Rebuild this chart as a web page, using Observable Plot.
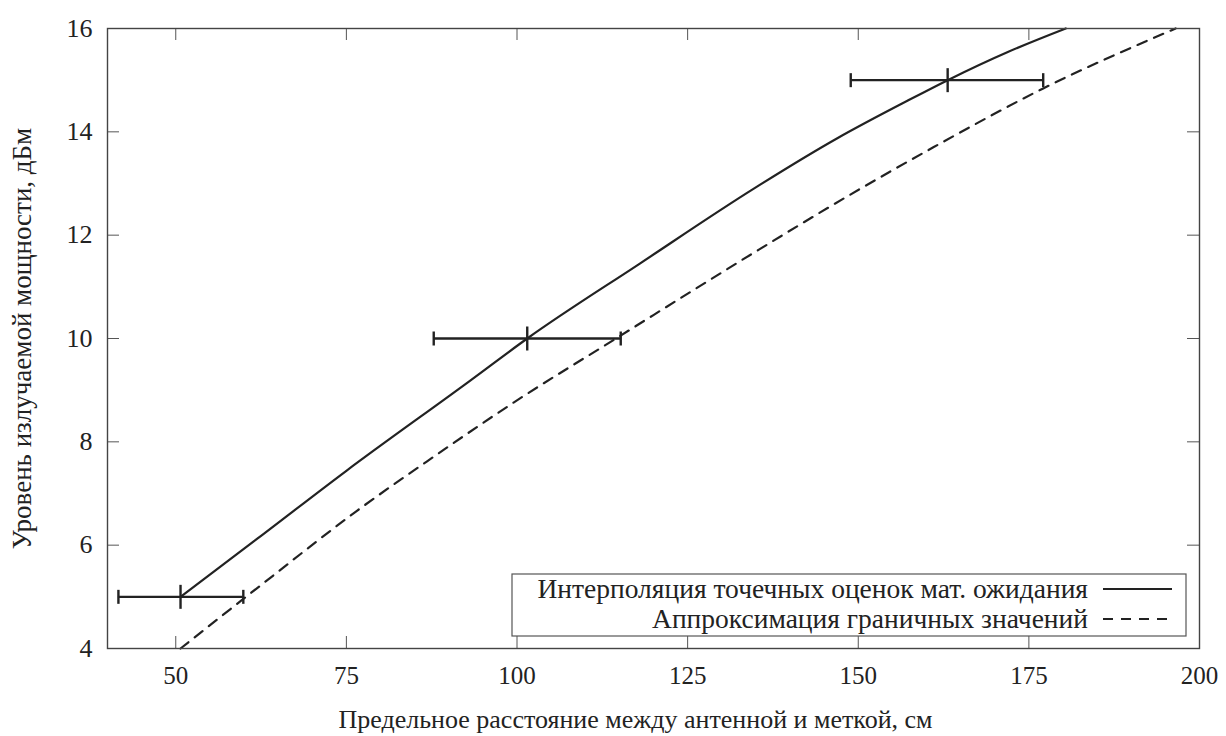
<!DOCTYPE html>
<html><head><meta charset="utf-8">
<script src="https://cdn.jsdelivr.net/npm/d3@7"></script>
<script src="https://cdn.jsdelivr.net/npm/@observablehq/plot@0.6"></script>
<style>
body{margin:0;background:#fff}
svg text{font-family:"Liberation Serif","Times New Roman",serif !important;}
</style>
</head><body><div id="chart"></div>
<script>
// Tick values
const xTicks = [50, 75, 100, 125, 150, 175, 200];
const yTicks = [4, 6, 8, 10, 12, 14, 16];

// Point estimates with intervals
const meanX = [50.7, 101.5, 163.1];
const meanY = [5, 10, 15];
const lowX  = [41.6, 87.8, 148.9];
const highX = [59.9, 115.2, 177.1];

// Interpolation of point estimates (solid)
const interpX = [50.7, 62, 75, 93.2, 101.5, 118, 134.7, 147, 157.2, 163.1, 172, 180.4];
const interpY = [5, 6.13, 7.44, 9.19, 10, 11.45, 12.9, 13.88, 14.6, 15, 15.55, 16];

// Approximation of boundary values (dashed)
const approxX = [50.7, 63, 76.6, 88, 99.5, 114.5, 134.7, 148, 161, 177.1, 196.5];
const approxY = [4, 5.28, 6.67, 7.73, 8.76, 10, 11.66, 12.72, 13.7, 14.84, 16];

const xTitle = "Предельное расстояние между антенной и меткой, см";
const yTitle = "Уровень излучаемой мощности, дБм";
const legendLabels = ["Интерполяция точечных оценок мат. ожидания", "Аппроксимация граничных значений"];

const interp = interpX.map((x, i) => ({x, y: interpY[i]}));
const approx = approxX.map((x, i) => ({x, y: approxY[i]}));
const bars = meanX.map((x, i) => ({x, y: meanY[i], lo: lowX[i], hi: highX[i]}));

const W = 1226, H = 736, mL = 107, mR = 27, mT = 28, mB = 88;
const frameH = H - mT - mB, frameW = W - mL - mR;
const TL = 12;
const vbar = {draw(ctx, size) { const h = Math.sqrt(size / Math.PI); ctx.moveTo(0, -h); ctx.lineTo(0, h); }};
const ink = "#222";
const FONT = '"Liberation Serif", "Times New Roman", serif';

const plot = Plot.plot({
  width: W, height: H,
  marginLeft: mL, marginRight: mR, marginTop: mT, marginBottom: mB,
  style: {fontFamily: FONT, background: "#fff", color: ink},
  x: {domain: [40, 200], axis: null},
  y: {domain: [4, 16], axis: null},
  marks: [
    Plot.tickX(xTicks, {x: d => d, insetTop: frameH - TL, stroke: "#555", strokeWidth: 1}),
    Plot.tickX(xTicks, {x: d => d, insetBottom: frameH - TL, stroke: "#555", strokeWidth: 1}),
    Plot.tickY(yTicks, {y: d => d, insetRight: frameW - TL, stroke: "#555", strokeWidth: 1}),
    Plot.tickY(yTicks, {y: d => d, insetLeft: frameW - TL, stroke: "#555", strokeWidth: 1}),
    Plot.axisX(xTicks, {tickSize: 0, tickPadding: 18, fontSize: 25, label: null, tickFormat: d => String(d), fill: ink}),
    Plot.axisY(yTicks, {tickSize: 0, tickPadding: 15, fontSize: 26, label: null, tickFormat: d => String(d), fill: ink}),
    Plot.text([xTitle], {frameAnchor: "bottom", textAnchor: "middle", lineAnchor: "middle", dy: 71, dx: -18, fontSize: 26, fill: ink}),
    Plot.text([yTitle], {frameAnchor: "left", textAnchor: "middle", lineAnchor: "middle", dx: -85, rotate: -90, fontSize: 27, fill: ink}),
    Plot.line(interp, {x: "x", y: "y", curve: "monotone-x", stroke: ink, strokeWidth: 2.2}),
    Plot.line(approx, {x: "x", y: "y", curve: "monotone-x", stroke: ink, strokeWidth: 2.2, strokeDasharray: "10,8"}),
    Plot.ruleY(bars, {y: "y", x1: "lo", x2: "hi", stroke: ink, strokeWidth: 2.4}),
    Plot.dot(bars, {x: "lo", y: "y", symbol: vbar, r: 7, stroke: ink, strokeWidth: 2.4, fill: "none"}),
    Plot.dot(bars, {x: "hi", y: "y", symbol: vbar, r: 7, stroke: ink, strokeWidth: 2.4, fill: "none"}),
    Plot.dot(bars, {x: "x", y: "y", symbol: vbar, r: 12, stroke: ink, strokeWidth: 2.4, fill: "none"}),
    Plot.frame({stroke: "#444", strokeWidth: 1.4})
  ]
});
document.getElementById("chart").append(plot);

// Legend (inside plot area, bottom-right)
const svg = d3.select(plot);
const lg = svg.append("g");
lg.append("rect").attr("x", 512).attr("y", 574).attr("width", 674).attr("height", 62)
  .attr("fill", "#fff").attr("stroke", "#555").attr("stroke-width", 1.2);
const rows = [{y: 589, dash: null}, {y: 619, dash: "10,8"}];
rows.forEach((r, i) => {
  lg.append("text").attr("x", 1088).attr("y", r.y).attr("dy", "0.32em")
    .attr("text-anchor", "end").attr("font-size", 27.5)
    .attr("fill", ink).text(legendLabels[i]);
  const ln = lg.append("line").attr("x1", 1103).attr("x2", 1172).attr("y1", r.y).attr("y2", r.y)
    .attr("stroke", ink).attr("stroke-width", 2.2);
  if (r.dash) ln.attr("stroke-dasharray", r.dash);
});
</script>
</body></html>
